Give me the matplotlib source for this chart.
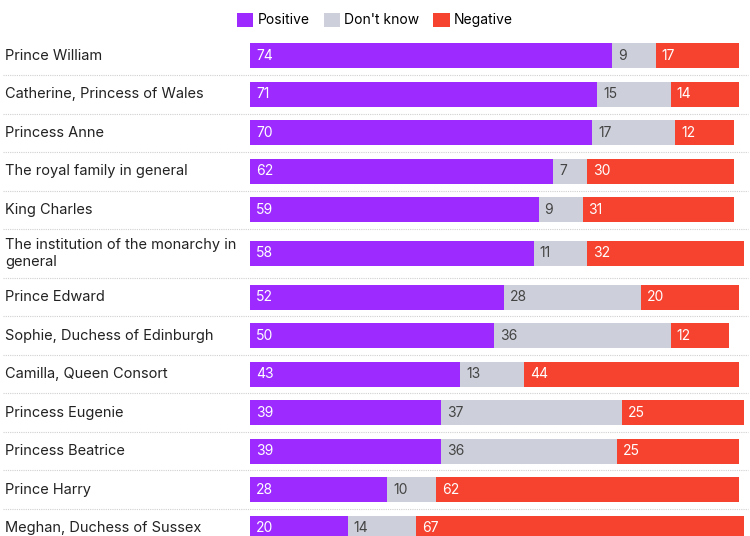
import numpy as np
import matplotlib
matplotlib.use('Agg')
import matplotlib.pyplot as plt
from matplotlib.patches import Patch
from matplotlib.transforms import blended_transform_factory

plt.rcParams['font.family'] = ['Inter', 'DejaVu Sans']

names = [
    'Prince William',
    'Catherine, Princess of Wales',
    'Princess Anne',
    'The royal family in general',
    'King Charles',
    'The institution of the monarchy in\ngeneral',
    'Prince Edward',
    'Sophie, Duchess of Edinburgh',
    'Camilla, Queen Consort',
    'Princess Eugenie',
    'Princess Beatrice',
    'Prince Harry',
    'Meghan, Duchess of Sussex',
]
positive = [74, 71, 70, 62, 59, 58, 52, 50, 43, 39, 39, 28, 20]
dont_know = [9, 15, 17, 7, 9, 11, 28, 36, 13, 37, 36, 10, 14]
negative = [17, 14, 12, 30, 31, 32, 20, 12, 44, 25, 25, 62, 67]

series = ['Positive', "Don't know", 'Negative']
colours = ['#9d2bff', '#cdd0da', '#f5432f']
text_colours = ['white', '#444444', 'white']

# row heights: two-line labels get a taller row
row_h = np.array([1.27 if '\n' in n else 1.0 for n in names])
edges = np.concatenate([[0], np.cumsum(row_h)])
centres = (edges[:-1] + edges[1:]) / 2

W, H = 750, 536
fig = plt.figure(figsize=(W / 100, H / 100), dpi=100)
top = 1 - 36.5 / H
bottom = top - edges[-1] * 38.5 / H
ax = fig.add_axes([250 / W, bottom, 500 / W, top - bottom])
ax.set_xlim(0, 102.25)
ax.set_ylim(edges[-1], 0)
ax.axis('off')

data = np.array([positive, dont_know, negative])
lefts = np.zeros(len(names))
for vals, col, tcol in zip(data, colours, text_colours):
    ax.barh(centres, vals, left=lefts, height=25 / 38.5, color=col,
            edgecolor='none')
    for y, x0, v in zip(centres, lefts, vals):
        ax.annotate(str(v), (x0, y), xytext=(6, 0), textcoords='offset pixels',
                    ha='left', va='center', color=tcol, fontsize=10)
    lefts = lefts + vals

trans = blended_transform_factory(fig.transFigure, ax.transData)
for y, n in zip(centres, names):
    ax.text(5 / W, y, n, transform=trans, ha='left', va='center',
            fontsize=10.5, color='#222222', linespacing=1.3)
for y in edges[1:-1]:
    ax.plot([3 / W, 748 / W], [y, y], transform=trans, clip_on=False,
            color='#d0d0d0', lw=0.8, linestyle=(0, (1, 1)))

handles = [Patch(facecolor=c, edgecolor='none') for c in colours]
fig.legend(handles, series, loc='upper center', bbox_to_anchor=(0.5, 1.0),
           ncol=3, frameon=False, fontsize=10, handlelength=1.2,
           handleheight=1.2, handletextpad=0.3, columnspacing=1.0)

fig.savefig('out.png', dpi=100)
